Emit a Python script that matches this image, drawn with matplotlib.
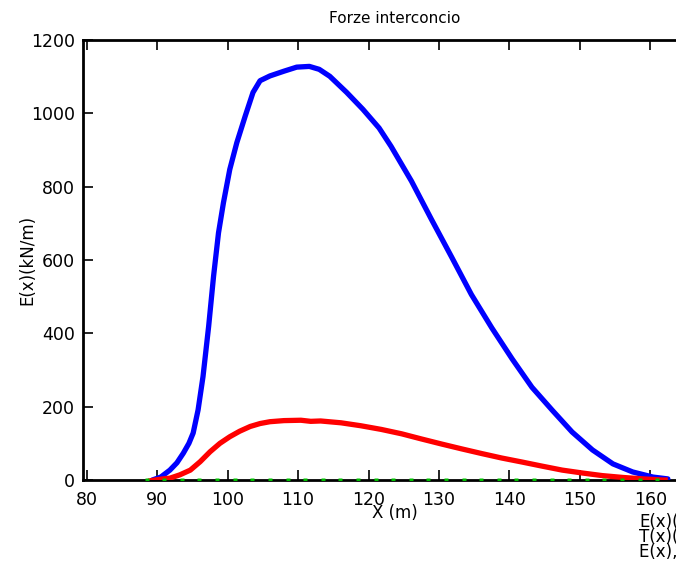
import matplotlib
matplotlib.use('Agg')
import matplotlib.pyplot as plt

# E(x) curve (blue)
ex_x = [89.3, 90.5, 91.8, 92.8, 93.7, 94.5, 95.1, 95.8, 96.5, 97.3, 98.0, 98.7,
        99.4, 100.3, 101.3, 102.5, 103.6, 104.6, 106.0, 108.0, 109.8, 111.6,
        113.0, 114.5, 116.9, 119.2, 121.5, 123.2, 126.1, 128.9, 131.8, 134.6,
        137.5, 140.4, 143.2, 146.1, 148.9, 151.8, 154.7, 157.5, 160.4, 162.5]
ex_y = [0, 8, 27, 47, 73, 100, 128, 191, 282, 419, 556, 674,
        756, 847, 920, 993, 1057, 1089, 1102, 1115, 1126, 1128,
        1120, 1101, 1057, 1011, 960, 910, 815, 712, 608, 506,
        415, 330, 253, 190, 131, 82, 44, 22, 8, 3]

# T(x) curve (red)
tx_x = [88.7, 90.4, 91.8, 93.2, 94.7, 96.1, 97.5, 98.9, 100.3, 101.7, 103.2,
        104.6, 106.0, 108.0, 110.4, 111.8, 113.2, 116.1, 118.9, 121.8, 124.7,
        127.5, 130.4, 133.2, 136.1, 138.9, 141.8, 144.6, 147.5, 150.4, 153.2,
        156.1, 159.0, 161.8, 162.5]
tx_y = [-3, 2, 5, 14, 27, 50, 77, 100, 118, 133, 146,
        154, 159, 162, 163, 160, 161, 156, 148, 138, 126,
        112, 98, 85, 72, 60, 49, 38, 27, 19, 12,
        7, 3, 0, 0]

# third series (green dots on zero)
g_x = [88.5, 91.0, 93.5, 96.0, 98.5, 101.0, 103.5, 106.0, 108.5, 111.0,
       113.5, 116.0, 118.5, 121.0, 123.5, 126.0, 128.5, 131.0, 133.5, 136.0,
       138.5, 141.0, 143.5, 146.0, 148.5, 151.0, 153.5, 156.0, 158.5, 161.0]
g_y = [0] * len(g_x)

xticks = [80, 90, 100, 110, 120, 130, 140, 150, 160]
yticks = [0, 200, 400, 600, 800, 1000, 1200]
legend_labels = ['E(x)(kN/m)', 'T(x)(kN/m)', 'E(x), T(x)']

plt.rcParams['font.family'] = 'DejaVu Sans'
fig = plt.figure(figsize=(6.76, 5.69), dpi=100)
ax = fig.add_axes([0.1235, 0.1564, 0.9426, 0.7733])

ax.plot(ex_x, ex_y, color='#0000ff', lw=3.8, solid_capstyle='round',
        solid_joinstyle='round', zorder=3)
ax.plot(tx_x, tx_y, color='#ff0000', lw=3.8, solid_capstyle='butt',
        solid_joinstyle='round', zorder=4)
ax.plot(g_x, g_y, ls='none', marker='s', ms=2.2, color='#00c000', mec='none', zorder=5)

ax.set_xlim(79.53, 170)
ax.set_ylim(0, 1200)
ax.set_xticks(xticks)
ax.set_yticks(yticks)
ax.tick_params(direction='in', length=7, width=1.2, labelsize=12.5,
               top=True, right=True, pad=6)
ax.tick_params(axis='x', pad=8)
for s in ax.spines.values():
    s.set_linewidth(2)

fig.text(0.584, 0.968, 'Forze interconcio', ha='center', va='center', fontsize=11)
fig.text(0.584, 0.098, 'X (m)', ha='center', va='center', fontsize=12)
fig.text(0.040, 0.543, 'E(x)(kN/m)', ha='center', va='center', rotation=90, fontsize=12)

for i, lab in enumerate(legend_labels):
    fig.text(0.946, 0.083 - i * 0.027, lab, ha='left', va='center', fontsize=12)

fig.savefig('out.png', dpi=100)
